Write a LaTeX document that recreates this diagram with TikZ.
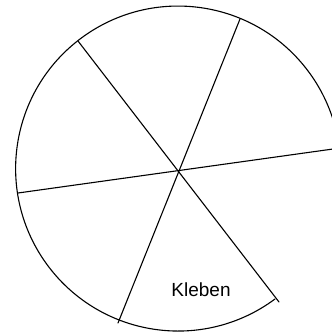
\documentclass[tikz,border=0pt]{standalone}
\usepackage{fontspec}
\setmainfont{Liberation Sans}
\begin{document}
\begin{tikzpicture}[x=1pt,y=-1pt,
  stroke/.style={line width=1.1pt, line cap=round, line join=round},
  label/.style={font=\fontsize{19}{22}\selectfont, inner sep=0pt}]
\useasboundingbox (0,0) rectangle (332,333);
\clip (0,0) rectangle (332,333);
\coordinate (tr) at (240,19);
\coordinate (bl) at (118,323);
\coordinate (tl) at (78,41);
\coordinate (br) at (279,302);
\coordinate (l) at (18,193);
\coordinate (r) at (333,149);
\coordinate (arcstart) at (275,299);
\draw[stroke] (tr) -- (bl);
\draw[stroke] (tl) -- (br);
\draw[stroke] (l) -- (r);
\draw[stroke] (arcstart) arc[start angle=53.4, end angle=360, radius=162.5];
\node[label] (kleben) at (201,290) {Kleben};
\end{tikzpicture}
\end{document}
